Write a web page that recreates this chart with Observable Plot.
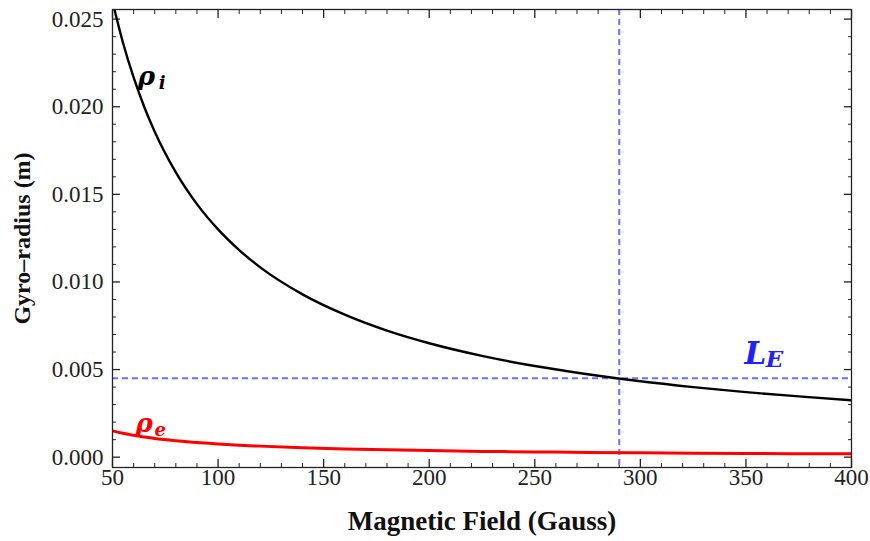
<!DOCTYPE html>
<html>
<head>
<meta charset="utf-8">
<script src="https://cdn.jsdelivr.net/npm/d3@7"></script>
<script src="https://cdn.jsdelivr.net/npm/@observablehq/plot@0.6"></script>
<style>
  html, body { margin: 0; padding: 0; background: #fff; }
</style>
</head>
<body>
<div id="chart"></div>
<script>
// Magnetic field strength (Gauss)
const field = [50, 55, 60, 65, 70, 80, 90, 100, 110, 120, 140, 160, 180, 200, 225, 250, 275, 300, 325, 350, 375, 400];
// Ion gyro-radius (m)
const rhoIon = [0.0260, 0.02364, 0.02167, 0.0200, 0.01857, 0.01625, 0.01444, 0.0130, 0.01182, 0.01083, 0.00929, 0.00813, 0.00722, 0.0065, 0.00578, 0.0052, 0.00473, 0.00433, 0.0040, 0.00371, 0.00347, 0.00325];
// Electron gyro-radius (m)
const rhoElectron = [0.0015, 0.00136, 0.00125, 0.00115, 0.00107, 0.00094, 0.00083, 0.00075, 0.00068, 0.00063, 0.00054, 0.00047, 0.00042, 0.00038, 0.00033, 0.0003, 0.00027, 0.00025, 0.00023, 0.00021, 0.0002, 0.00019];

// Characteristic length L_E and the field where rho_i reaches it
const lengthE = 0.0045;
const crossField = 290;

// Tick values and labels
const xMajor = [50, 100, 150, 200, 250, 300, 350, 400];
const xTickLabels = ["50", "100", "150", "200", "250", "300", "350", "400"];
const xMinor = d3.range(60, 400, 10).filter(v => v % 50 !== 0);
const yMajor = [0, 0.005, 0.010, 0.015, 0.020, 0.025];
const yTickLabels = ["0.000", "0.005", "0.010", "0.015", "0.020", "0.025"];
const yMinor = d3.range(1, 26).map(v => v / 1000).filter((v, i) => (i + 1) % 5 !== 0);

// Curve labels
const rhoLabels = [
  {base: "ρ", sub: "i", x: 66, y: 0.0217, color: "#000000"},
  {base: "ρ", sub: "e", x: 65, y: 0.0019, color: "#ff0000"}
];
const lengthLabel = [{base: "L", sub: "E", x: 354.5, y: 0.0059, color: "#2020ff"}];

const ion = field.map((b, i) => ({b, r: rhoIon[i]}));
const electron = field.map((b, i) => ({b, r: rhoElectron[i]}));
const xTicks = xMajor.map((v, i) => ({v, label: xTickLabels[i]}));
const yTicks = yMajor.map((v, i) => ({v, label: yTickLabels[i]}));

const serif = "'Liberation Serif', 'Times New Roman', serif";
const mathFont = "'DejaVu Serif', serif";
const ink = "#222";

// inward tick marks on one side of the frame
function ticks(axis, anchor, values, size, width) {
  const shift = {bottom: {dy: -size}, top: {dy: size}, left: {dx: size}, right: {dx: -size}}[anchor];
  const opts = {anchor, ticks: values, tickSize: size, tickFormat: () => "", label: null, stroke: ink, strokeWidth: width, ...shift};
  return axis === "x" ? Plot.axisX(opts) : Plot.axisY(opts);
}

// italic symbol with a subscript
function symbol(data, size, subSize, dx, dy) {
  const common = {x: "x", y: "y", fill: "color", fontStyle: "italic", fontWeight: "bold", fontFamily: mathFont};
  return [
    Plot.text(data, {...common, text: "base", fontSize: size}),
    Plot.text(data, {...common, text: "sub", fontSize: subSize, dx, dy})
  ];
}

const chart = Plot.plot({
  width: 870,
  height: 541,
  marginLeft: 112,
  marginRight: 19,
  marginTop: 9,
  marginBottom: 74,
  style: {fontFamily: serif, background: "#fff"},
  x: {domain: [50, 400]},
  y: {domain: [-0.00059, 0.02555]},
  marks: [
    ticks("x", "bottom", xMajor, 8, 1.3),
    ticks("x", "bottom", xMinor, 4, 1),
    ticks("x", "top", xMajor, 8, 1.3),
    ticks("x", "top", xMinor, 4, 1),
    ticks("y", "left", yMajor, 8, 1.3),
    ticks("y", "left", yMinor, 4, 1),
    ticks("y", "right", yMajor, 8, 1.3),
    ticks("y", "right", yMinor, 4, 1),
    // tick labels
    Plot.text(xTicks, {x: "v", frameAnchor: "bottom", dy: 17, text: "label", fontSize: 23, fill: ink, fontFamily: serif}),
    Plot.text(yTicks, {y: "v", frameAnchor: "left", dx: -9, textAnchor: "end", text: "label", fontSize: 23, fill: ink, fontFamily: serif}),
    // reference lines
    Plot.ruleY([lengthE], {stroke: "#7070ff", strokeWidth: 2, strokeDasharray: "6,4"}),
    Plot.ruleX([crossField], {stroke: "#7070ff", strokeWidth: 2, strokeDasharray: "6,4"}),
    // gyro-radius curves
    Plot.line(electron, {x: "b", y: "r", stroke: "#ff0000", strokeWidth: 3, curve: "monotone-x", clip: true}),
    Plot.line(ion, {x: "b", y: "r", stroke: "#000000", strokeWidth: 2.4, curve: "monotone-x", clip: true}),
    Plot.frame({stroke: ink, strokeWidth: 1.3}),
    // curve labels
    ...symbol(rhoLabels, 26, 18, 16, 6),
    ...symbol(lengthLabel, 31, 23, 19, 6),
    // axis titles
    Plot.text(["Magnetic Field (Gauss)"], {frameAnchor: "bottom", dy: 62, text: d => d, fontWeight: "bold", fontSize: 27, fill: "#111", fontFamily: serif}),
    Plot.text(["Gyro–radius (m)"], {frameAnchor: "left", dx: -90, rotate: -90, textAnchor: "middle", text: d => d, fontWeight: "bold", fontSize: 24, fill: "#111", fontFamily: serif})
  ]
});

document.getElementById("chart").appendChild(chart);
</script>
</body>
</html>
